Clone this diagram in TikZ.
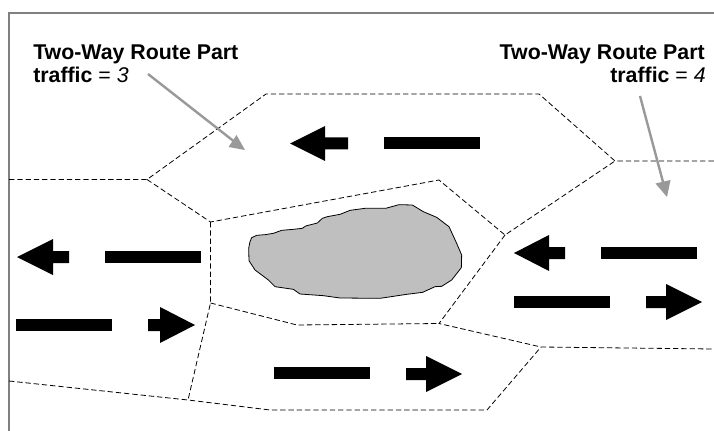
\documentclass[tikz,border=0pt]{standalone}
\usepackage{fontspec}
\setmainfont{Liberation Sans}
\begin{document}
\begin{tikzpicture}[x=0.75pt,y=-0.75pt,
  road/.style={draw=black,line width=0.6pt,dash pattern=on 4pt off 2.2pt},
  bar/.style={fill=black,draw=none},
  callout/.style={draw=black!40,line width=1.8pt,shorten >=7pt},
  calloutHead/.style={fill=black!40,draw=none},
  lab/.style={inner sep=0pt,font=\fontsize{16pt}{18pt}\selectfont\bfseries}]
\useasboundingbox (0,0) rectangle (714,431);
\draw[black!50,line width=1.1pt] (9,431) -- (9,13) -- (714,13);
% junctions
\coordinate (L) at (9,179.5);
\coordinate (A) at (147,179.5);
\coordinate (B) at (266,94);
\coordinate (C) at (539,94);
\coordinate (D) at (615,161);
\coordinate (R) at (714,161);
\coordinate (E) at (210.5,222);
\coordinate (F) at (439,180);
\coordinate (G) at (505,235);
\coordinate (H) at (439,323.5);
\coordinate (I) at (541,347);
\coordinate (R2) at (714,349);
\coordinate (J) at (487,410);
\coordinate (K) at (270,410);
\coordinate (M) at (188,400);
\coordinate (L2) at (9,381);
\coordinate (N) at (210.5,303);
\coordinate (O) at (297,325);
\draw[road] (L) -- (A) -- (B) -- (C) -- (D) -- (R);
\draw[road] (A) -- (E) -- (F) -- (G) -- (D);
\draw[road] (G) -- (H) -- (I) -- (R2);
\draw[road] (L2) -- (M) -- (K) -- (J) -- (I);
\draw[road] (E) -- (N) -- (M);
\draw[road] (N) -- (O) -- (H);
% lake
\begin{scope}[shift={(240,195)},x=0.25pt,y=-0.25pt]
\draw[fill=black!25,draw=black,line width=0.6pt] (35,128)--(50,121)--(75,119)--(100,115)--(125,106)--(160,103)--(187,100)--(197,93)--(232,84)--(247,70)--(262,65)--(300,58)--(330,46)--(375,40)--(437,40)--(477,29)--(517,30)--(550,50)--(590,67)--(627,95)--(650,145)--(665,180)--(664,218)--(635,255)--(605,274)--(585,275)--(548,292)--(500,298)--(420,310)--(300,309)--(250,302)--(180,297)--(160,283)--(105,275)--(85,255)--(45,225)--(27,197)--(26,160)--(30,140)--cycle;
\end{scope}
% traffic bars
\fill[bar] (384,137.5) rectangle (480,149.5);
\fill[bar] (105,251) rectangle (201,263);
\fill[bar] (15.5,319) rectangle (111.5,331);
\fill[bar] (274,367) rectangle (370,379);
\fill[bar] (601,247) rectangle (697,259);
\fill[bar] (514,296) rectangle (610,308);
% traffic arrows
\fill[bar] (290,143.5)--(325,126)--(325,137.5)--(348,137.5)--(348,149.5)--(325,149.5)--(325,161)--cycle;
\fill[bar] (17,257)--(53,239)--(53,251)--(69,251)--(69,263)--(53,263)--(53,275)--cycle;
\fill[bar] (514,253)--(549,235)--(549,247)--(565,247)--(565,259)--(549,259)--(549,271)--cycle;
\fill[bar] (195,325)--(160,307)--(160,319)--(148,319)--(148,331)--(160,331)--(160,343)--cycle;
\fill[bar] (462,374)--(426,356)--(426,368)--(406,368)--(406,380)--(426,380)--(426,392)--cycle;
\fill[bar] (702,302)--(666,284)--(666,296)--(646,296)--(646,308)--(666,308)--(666,320)--cycle;
% labels
\node[lab,anchor=base west] (lt) at (33,59.5) {Two-Way Route Part};
\node[lab,anchor=base west] (lv) at (33,83) {traffic {\mdseries = \itshape 3}};
\node[lab,anchor=base east] (rt) at (705,59.5) {Two-Way Route Part};
\node[lab,anchor=base east] (rv) at (706,83) {traffic {\mdseries = \itshape 4}};
% callouts
\coordinate (a1) at (148,74);
\coordinate (a2) at (245,150);
\coordinate (b1) at (640,96);
\coordinate (b2) at (667,197);
\draw[callout] (a1) -- (a2);
\draw[callout] (b1) -- (b2);
\fill[calloutHead] (a2) -- (236.5,135) -- (228.5,147) -- cycle;
\fill[calloutHead] (b2) -- (670.5,180) -- (655.5,183.5) -- cycle;
\end{tikzpicture}
\end{document}
